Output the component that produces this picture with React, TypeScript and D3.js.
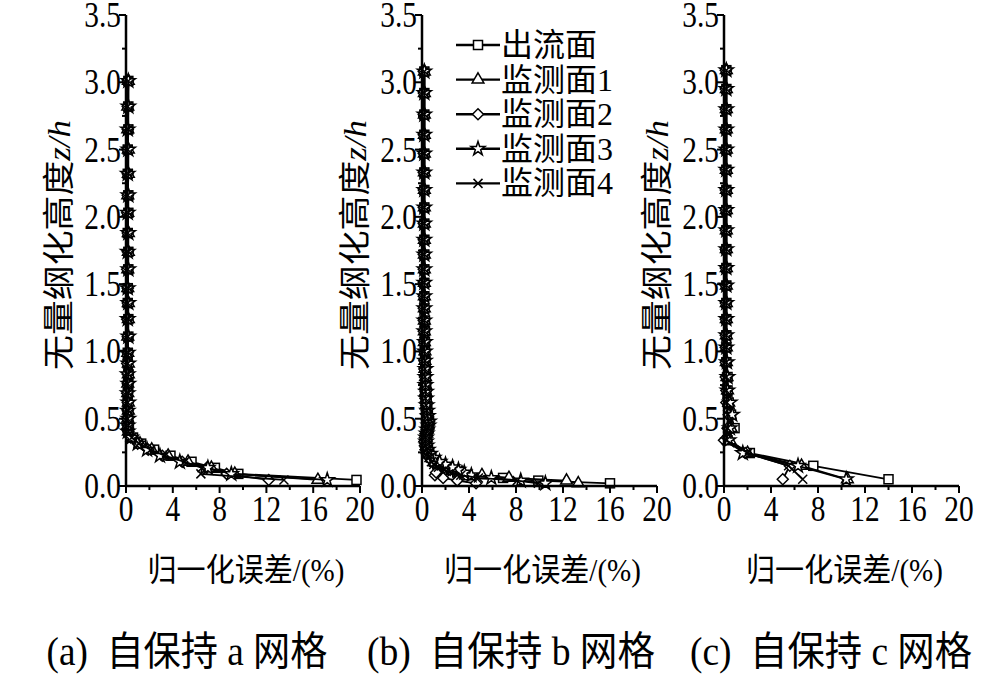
import React from "react";
import * as d3 from "d3";

// ---------- data ----------
const seriesNames = ["出流面", "监测面1", "监测面2", "监测面3", "监测面4"];
const markerKinds = ["square", "triangle", "diamond", "star", "cross"];
const xTicks = [0, 4, 8, 12, 16, 20];
const yTicks = [0, 0.5, 1.0, 1.5, 2.0, 2.5, 3.0, 3.5];
const captions = ["(a)  自保持 a 网格", "(b)  自保持 b 网格", "(c)  自保持 c 网格"];
const xLabel = "归一化误差/(%)";
const yLabelCjk = "无量纲化高度";
const yLabelVar = "z/h";

// panel (a): normalized height grid and errors (%)
const zA = [0.045, 0.09, 0.135, 0.18, 0.225, 0.27, 0.315, 0.36, 0.405, 0.45, 0.5, 0.56, 0.62, 0.69, 0.76, 0.83, 0.91, 0.99, 1.11, 1.24, 1.36, 1.47, 1.61, 1.74, 1.88, 2.03, 2.16, 2.32, 2.5, 2.65, 2.82, 3.01];
const aOut = [19.7, 9.6, 7.6, 5.6, 3.8, 2.4, 1.3, 0.6, 0.25, 0.2, 0.2, 0.15, 0.15, 0.15, 0.2, 0.2, 0.15, 0.15, 0.2, 0.2, 0.15, 0.15, 0.2, 0.2, 0.15, 0.2, 0.2, 0.15, 0.15, 0.2, 0.2, 0.2];
const a1 = [16.4, 9.3, 7.3, 5.3, 3.6, 2.2, 1.2, 0.5, 0.2, 0.15, 0.15, 0.2, 0.2, 0.15, 0.15, 0.2, 0.2, 0.15, 0.15, 0.2, 0.2, 0.15, 0.15, 0.2, 0.2, 0.15, 0.15, 0.2, 0.2, 0.15, 0.15, 0.2];
const a2 = [12.2, 8.6, 6.9, 4.8, 3.1, 1.9, 1.0, 0.4, 0.2, 0.15, 0.1, 0.15, 0.15, 0.1, 0.15, 0.15, 0.1, 0.15, 0.15, 0.1, 0.15, 0.15, 0.1, 0.15, 0.15, 0.1, 0.15, 0.15, 0.1, 0.15, 0.15, 0.15];
const a3 = [17.2, 9.0, 7.0, 4.6, 2.9, 1.8, 1.0, 0.45, 0.15, 0.15, 0.2, 0.15, 0.2, 0.15, 0.2, 0.15, 0.2, 0.15, 0.2, 0.15, 0.2, 0.15, 0.2, 0.15, 0.2, 0.15, 0.2, 0.15, 0.2, 0.15, 0.2, 0.2];
const a4 = [13.5, 6.4, 6.5, 5.0, 3.3, 2.1, 1.1, 0.5, 0.2, 0.2, 0.15, 0.2, 0.15, 0.2, 0.15, 0.2, 0.15, 0.2, 0.15, 0.2, 0.15, 0.2, 0.15, 0.2, 0.15, 0.2, 0.15, 0.2, 0.15, 0.2, 0.15, 0.2];

// panel (b)
const zB = [0.02, 0.04, 0.06, 0.08, 0.1, 0.12, 0.14, 0.16, 0.18, 0.21, 0.24, 0.27, 0.3, 0.33, 0.36, 0.39, 0.42, 0.45, 0.48, 0.52, 0.56, 0.6, 0.65, 0.7, 0.75, 0.81, 0.87, 0.93, 1.0, 1.07, 1.15, 1.23, 1.32, 1.41, 1.51, 1.61, 1.72, 1.83, 1.95, 2.07, 2.2, 2.33, 2.47, 2.61, 2.76, 2.92, 3.08];
const bOut = [16.0, 9.9, 6.9, 3.8, 3.0, 2.3, 1.7, 1.3, 1.0, 0.8, 0.6, 0.5, 0.45, 0.4, 0.4, 0.45, 0.5, 0.6, 0.6, 0.5, 0.45, 0.4, 0.4, 0.35, 0.35, 0.3, 0.3, 0.3, 0.25, 0.25, 0.25, 0.25, 0.2, 0.2, 0.2, 0.2, 0.2, 0.2, 0.2, 0.2, 0.2, 0.2, 0.2, 0.2, 0.2, 0.2, 0.2];
const b1 = [13.3, 12.3, 7.4, 5.1, 3.4, 2.6, 2.0, 1.5, 1.1, 0.8, 0.6, 0.5, 0.4, 0.35, 0.35, 0.4, 0.45, 0.5, 0.55, 0.45, 0.4, 0.35, 0.35, 0.3, 0.3, 0.3, 0.25, 0.25, 0.25, 0.2, 0.2, 0.2, 0.2, 0.2, 0.2, 0.2, 0.2, 0.2, 0.2, 0.2, 0.2, 0.2, 0.2, 0.2, 0.2, 0.2, 0.2];
const b2 = [4.6, 3.0, 1.8, 1.1, 1.2, 2.4, 1.9, 1.3, 0.9, 0.6, 0.4, 0.3, 0.25, 0.2, 0.25, 0.3, 0.4, 0.5, 0.6, 0.5, 0.4, 0.35, 0.3, 0.3, 0.25, 0.25, 0.2, 0.2, 0.2, 0.2, 0.15, 0.15, 0.15, 0.15, 0.15, 0.15, 0.15, 0.15, 0.15, 0.15, 0.15, 0.15, 0.15, 0.15, 0.15, 0.15, 0.15];
const b3 = [10.5, 8.4, 5.9, 4.2, 3.6, 3.1, 2.6, 2.0, 1.5, 1.0, 0.7, 0.5, 0.4, 0.35, 0.35, 0.4, 0.45, 0.55, 0.6, 0.5, 0.45, 0.4, 0.35, 0.35, 0.3, 0.3, 0.3, 0.25, 0.25, 0.25, 0.2, 0.2, 0.2, 0.2, 0.2, 0.2, 0.2, 0.2, 0.2, 0.2, 0.2, 0.2, 0.2, 0.2, 0.2, 0.2, 0.2];
const b4 = [9.9, 8.1, 4.8, 3.3, 2.5, 1.9, 1.4, 1.0, 0.8, 0.6, 0.5, 0.4, 0.3, 0.3, 0.3, 0.35, 0.4, 0.5, 0.55, 0.45, 0.4, 0.35, 0.3, 0.3, 0.3, 0.25, 0.25, 0.25, 0.2, 0.2, 0.2, 0.2, 0.2, 0.2, 0.2, 0.2, 0.2, 0.2, 0.2, 0.2, 0.2, 0.2, 0.2, 0.2, 0.2, 0.2, 0.2];

// panel (c)
const zC = [0.05, 0.15, 0.245, 0.34, 0.43, 0.53, 0.62, 0.71, 0.81, 0.92, 1.03, 1.12, 1.24, 1.36, 1.49, 1.62, 1.76, 1.9, 2.05, 2.2, 2.35, 2.5, 2.65, 2.8, 2.95, 3.09];
const cOut = [14.0, 7.6, 2.2, 0.3, 0.9, 0.6, 0.4, 0.3, 0.3, 0.2, 0.2, 0.2, 0.2, 0.2, 0.2, 0.2, 0.2, 0.2, 0.2, 0.2, 0.2, 0.2, 0.2, 0.2, 0.2, 0.2];
const c1 = [10.5, 6.6, 2.0, 0.5, 0.6, 0.5, 0.4, 0.3, 0.25, 0.2, 0.2, 0.2, 0.2, 0.2, 0.2, 0.2, 0.2, 0.2, 0.2, 0.2, 0.2, 0.2, 0.2, 0.2, 0.2, 0.2];
const c2 = [5.0, 5.6, 1.8, 0.0, 0.3, 0.4, 0.2, 0.2, 0.15, 0.15, 0.15, 0.15, 0.15, 0.15, 0.15, 0.15, 0.15, 0.15, 0.15, 0.15, 0.15, 0.15, 0.15, 0.15, 0.15, 0.15];
const c3 = [10.4, 6.3, 1.6, 0.4, 0.5, 0.7, 0.5, 0.3, 0.3, 0.25, 0.2, 0.2, 0.2, 0.2, 0.2, 0.2, 0.2, 0.2, 0.2, 0.2, 0.2, 0.2, 0.2, 0.2, 0.2, 0.2];
const c4 = [6.7, 5.5, 2.0, 0.2, 0.3, 0.3, 0.25, 0.2, 0.2, 0.2, 0.2, 0.2, 0.2, 0.2, 0.2, 0.2, 0.2, 0.2, 0.2, 0.2, 0.2, 0.2, 0.2, 0.2, 0.2, 0.2];

const panelsData = [
  { z: zA, series: [aOut, a1, a2, a3, a4] },
  { z: zB, series: [bOut, b1, b2, b3, b4] },
  { z: zC, series: [cOut, c1, c2, c3, c4] },
];

// ---------- layout ----------
const W = 1004;
const H = 687;
const panelX = [[126, 360], [422, 657], [724, 959]];
const yTop = 15;
const yBot = 486;
const captionCenters = [187, 511, 831];
const captionWidths = [281, 288, 282];

const SERIF = "'Liberation Serif', 'Times New Roman', serif";
const MIXED = "'Liberation Serif', 'Noto Sans CJK SC', serif";
const CJK = "'Noto Sans CJK SC', sans-serif";
const SX = 0.84;

function Marker({ kind, x, y }: { kind: string; x: number; y: number }) {
  const sw = 1.5;
  if (kind === "square") {
    return <rect x={x - 4.5} y={y - 4.5} width={9} height={9} fill="white" stroke="black" strokeWidth={sw} />;
  }
  if (kind === "triangle") {
    const p = d3.symbol().type(d3.symbolTriangle).size(60)();
    return <path d={p || ""} transform={`translate(${x},${y})`} fill="white" stroke="black" strokeWidth={sw} />;
  }
  if (kind === "diamond") {
    const r = 5.5;
    return <path d={`M${x},${y - r}L${x + r},${y}L${x},${y + r}L${x - r},${y}Z`} fill="white" stroke="black" strokeWidth={sw} />;
  }
  if (kind === "star") {
    const p = d3.symbol().type(d3.symbolStar).size(60)();
    return <path d={p || ""} transform={`translate(${x},${y})`} fill="white" stroke="black" strokeWidth={sw} />;
  }
  const r = 4.5;
  return (
    <path d={`M${x - r},${y - r}L${x + r},${y + r}M${x - r},${y + r}L${x + r},${y - r}`} stroke="black" strokeWidth={sw} fill="none" />
  );
}

function Panel({ idx }: { idx: number }) {
  const [x0, x1] = panelX[idx];
  const xs = d3.scaleLinear().domain([0, 20]).range([x0, x1]);
  const ys = d3.scaleLinear().domain([0, 3.5]).range([yBot, yTop]);
  const pd = panelsData[idx];
  const line = d3
    .line<[number, number]>()
    .x((d) => xs(d[0]))
    .y((d) => ys(d[1]));
  const xMinor = d3.range(2, 20, 4);
  const yMinor = d3.range(0.25, 3.5, 0.5);
  return (
    <g>
      {pd.series.map((vals, si) => {
        const pts: [number, number][] = vals.map((v, i) => [v, pd.z[i]]);
        return (
          <g key={si}>
            <path d={line(pts) || ""} fill="none" stroke="black" strokeWidth={1.8} />
            {pts.map((p, i) => (
              <Marker key={i} kind={markerKinds[si]} x={xs(p[0])} y={ys(p[1])} />
            ))}
          </g>
        );
      })}
      {/* axes */}
      <line x1={x0} x2={x0} y1={yTop} y2={yBot} stroke="black" strokeWidth={2.5} />
      <line x1={x0} x2={x1} y1={yBot} y2={yBot} stroke="black" strokeWidth={2.5} />
      {yTicks.map((t) => (
        <g key={"yt" + t}>
          <line x1={x0 - 7} x2={x0} y1={ys(t)} y2={ys(t)} stroke="black" strokeWidth={2} />
          <g transform={`translate(${x0 - 5},${ys(t) + 12}) scale(${SX},1)`}>
            <text textAnchor="end" fontFamily={SERIF} fontSize={35} fill="black">
              {t.toFixed(1)}
            </text>
          </g>
        </g>
      ))}
      {yMinor.map((t) => (
        <line key={"ym" + t} x1={x0 - 4} x2={x0} y1={ys(t)} y2={ys(t)} stroke="black" strokeWidth={2} />
      ))}
      {xTicks.map((t) => (
        <g key={"xt" + t}>
          <line x1={xs(t)} x2={xs(t)} y1={yBot} y2={yBot + 7} stroke="black" strokeWidth={2} />
          <g transform={`translate(${xs(t)},${yBot + 35}) scale(${SX},1)`}>
            <text textAnchor="middle" fontFamily={SERIF} fontSize={35} fill="black">
              {t}
            </text>
          </g>
        </g>
      ))}
      {xMinor.map((t) => (
        <line key={"xm" + t} x1={xs(t)} x2={xs(t)} y1={yBot} y2={yBot + 4} stroke="black" strokeWidth={2} />
      ))}
      {/* x label */}
      <text
        x={(x0 + x1) / 2 + 3}
        y={581}
        textAnchor="middle"
        fontFamily={MIXED}
        fontSize={32}
        fill="black"
        textLength={197}
        lengthAdjust="spacingAndGlyphs"
      >
        {xLabel}
      </text>
      {/* y label */}
      <g transform={`translate(${x0 - 56},245) rotate(-90)`}>
        <text textAnchor="middle" fontSize={32} fill="black" textLength={250} lengthAdjust="spacingAndGlyphs">
          <tspan fontFamily={CJK}>{yLabelCjk}</tspan>
          <tspan fontFamily={SERIF} fontStyle="italic">{yLabelVar}</tspan>
        </text>
      </g>
      {/* caption */}
      <text
        x={captionCenters[idx]}
        y={665}
        textAnchor="middle"
        fontFamily={MIXED}
        fontSize={40}
        fill="black"
        textLength={captionWidths[idx]}
        lengthAdjust="spacingAndGlyphs"
        style={{ whiteSpace: "pre" }}
      >
        {captions[idx]}
      </text>
    </g>
  );
}

function Legend() {
  const lx0 = 456;
  const lx1 = 500;
  const y0 = 45;
  const step = 34.6;
  return (
    <g>
      {seriesNames.map((n, i) => {
        const y = y0 + i * step;
        return (
          <g key={n}>
            <line x1={lx0} x2={lx1} y1={y} y2={y} stroke="black" strokeWidth={2.4} />
            <Marker kind={markerKinds[i]} x={(lx0 + lx1) / 2} y={y} />
            <text x={lx1 + 1} y={y + 11} fontFamily={MIXED} fontSize={32} fill="black">
              {n}
            </text>
          </g>
        );
      })}
    </g>
  );
}

export default function App() {
  return (
    <svg
      width={W}
      height={H}
      viewBox={`0 0 ${W} ${H}`}
      style={{ position: "absolute", left: 0, top: 0, background: "white" }}
    >
      <rect x={0} y={0} width={W} height={H} fill="white" />
      {[0, 1, 2].map((i) => (
        <Panel key={i} idx={i} />
      ))}
      <Legend />
    </svg>
  );
}
